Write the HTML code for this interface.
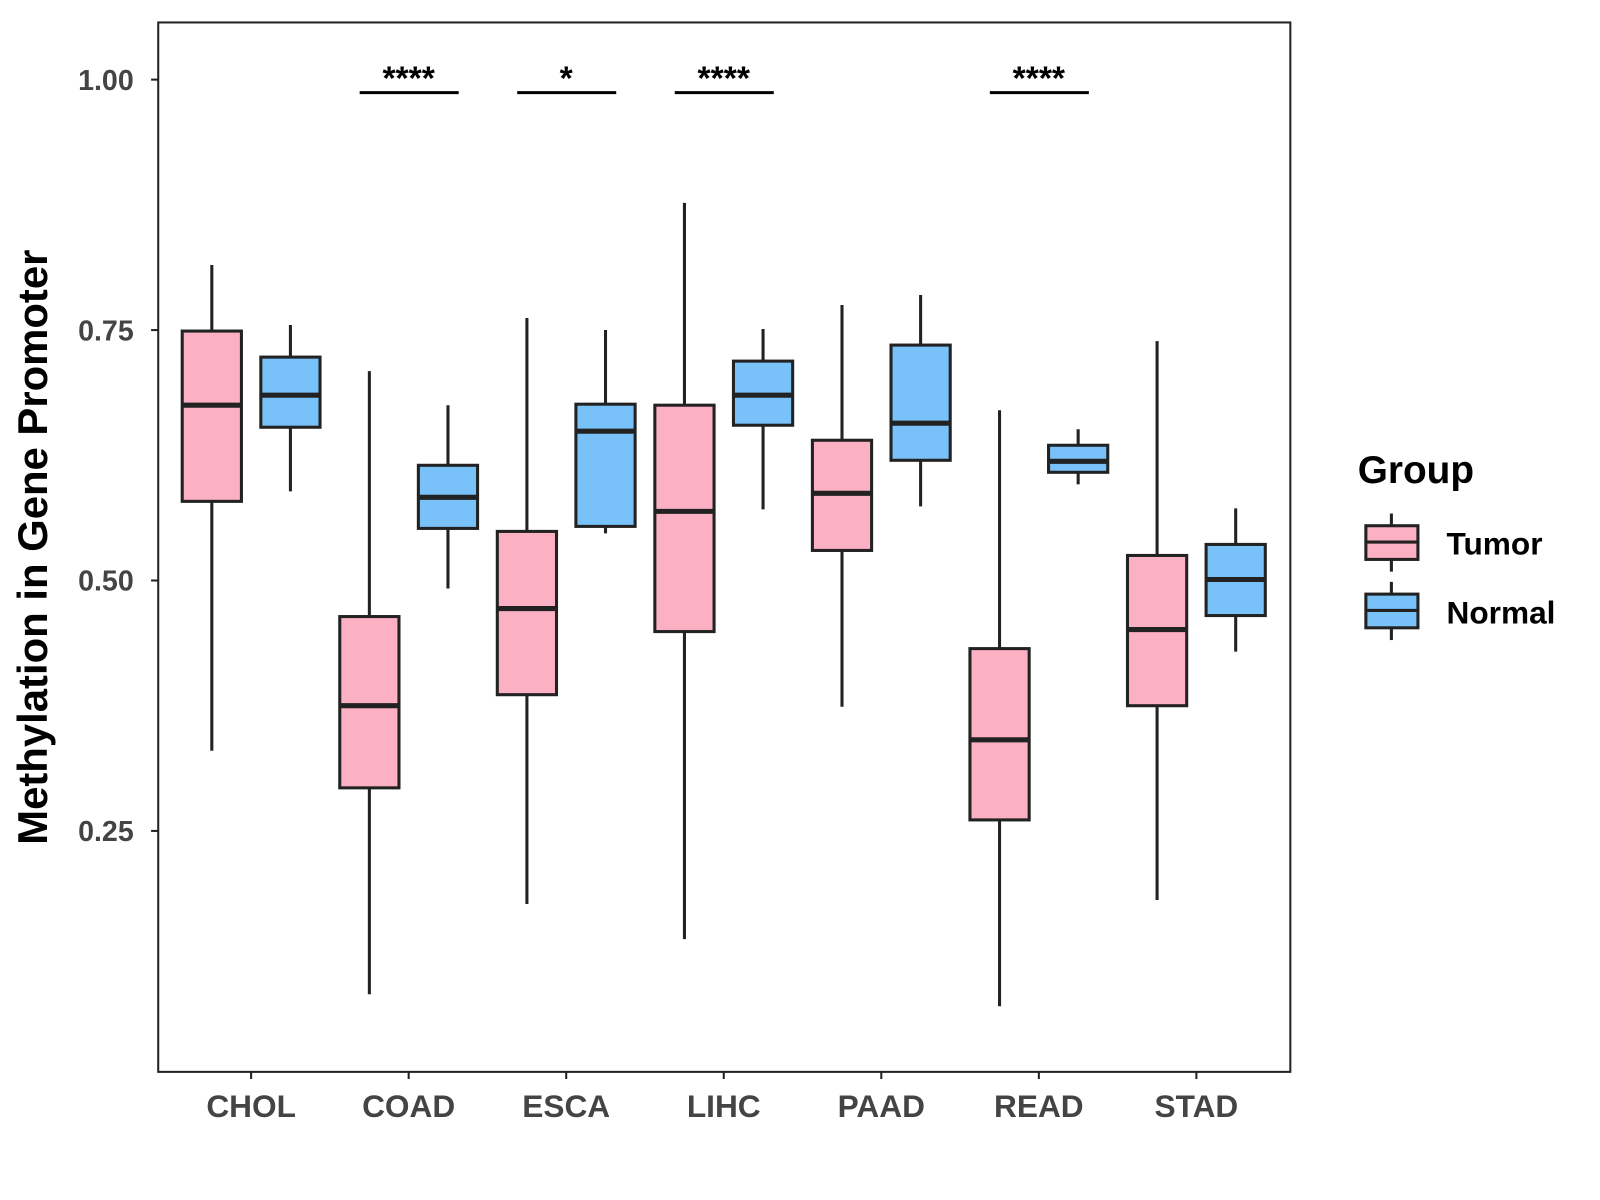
<!DOCTYPE html>
<html><head><meta charset="utf-8"><style>
body{margin:0;background:#fff}
svg{display:block;font-family:"Liberation Sans",Arial,sans-serif}
</style></head><body>
<svg id="chart" width="1600" height="1200" viewBox="0 0 1600 1200">
<g transform="scale(1.02083)">
<rect x="155" y="22" width="1109" height="1028" fill="#fff" stroke="#222" stroke-width="2"/>
<g id="yaxis"></g>
<g id="xaxis"></g>
<g id="boxes"></g>
<g id="sig"></g>
<text x="46" y="536" transform="rotate(-90 46 536)" text-anchor="middle" font-size="41" font-weight="bold" fill="#000">Methylation in Gene Promoter</text>
<g>
<text x="1330" y="473" font-size="38" font-weight="bold">Group</text>
<g>
<line x1="1363" y1="503" x2="1363" y2="560" stroke="#222" stroke-width="3"/>
<rect x="1338" y="515" width="51" height="33" fill="#FBB0C3" stroke="#222" stroke-width="3"/>
<line x1="1338" y1="531" x2="1389" y2="531" stroke="#222" stroke-width="3"/>
<text x="1417" y="543" font-size="31" font-weight="bold">Tumor</text>
</g>
<g>
<line x1="1363" y1="570" x2="1363" y2="627" stroke="#222" stroke-width="3"/>
<rect x="1338" y="582" width="51" height="33" fill="#78C1F9" stroke="#222" stroke-width="3"/>
<line x1="1338" y1="598" x2="1389" y2="598" stroke="#222" stroke-width="3"/>
<text x="1417" y="611" font-size="31" font-weight="bold">Normal</text>
</g>
</g>
</g>
</svg>
<script>
const categories=["CHOL","COAD","ESCA","LIHC","PAAD","READ","STAD"];
const tumorStats=[[0.330,0.579,0.675,0.749,0.815],[0.087,0.293,0.375,0.464,0.709],[0.177,0.386,0.472,0.549,0.762],[0.142,0.449,0.569,0.675,0.877],[0.374,0.530,0.587,0.640,0.775],[0.075,0.261,0.341,0.432,0.670],[0.181,0.375,0.451,0.525,0.739]];
const normalStats=[[0.589,0.653,0.685,0.723,0.755],[0.492,0.552,0.583,0.615,0.675],[0.547,0.554,0.649,0.676,0.750],[0.571,0.655,0.685,0.719,0.751],[0.574,0.620,0.657,0.735,0.785],[0.596,0.608,0.619,0.635,0.651],[0.429,0.465,0.501,0.536,0.572]];
const yTicks=[0.25,0.50,0.75,1.00];
const yTickLabels=["0.25","0.50","0.75","1.00"];
const sigCategories=["COAD","ESCA","LIHC","READ"];
const sigLabels=["****","*","****","****"];
const sigLevel=0.987;

const NS="http://www.w3.org/2000/svg";
const y=v=>78+(1-v)*981.3;
const x=i=>246+i*154.33;
function mk(tag,attrs,parent,text){const e=document.createElementNS(NS,tag);for(const k in attrs)e.setAttribute(k,attrs[k]);if(text!==undefined)e.textContent=text;parent.appendChild(e);return e;}
const ya=document.getElementById('yaxis');
yTicks.forEach((t,i)=>{
  const l=mk('line',{x1:148,x2:155,y1:y(t),y2:y(t),stroke:'#222','stroke-width':2},ya);
  
  
  const tx=mk('text',{x:131,y:y(t)+10,'text-anchor':'end','font-size':28,'font-weight':'bold',fill:'#444'},ya,yTickLabels[i]);
  
  
});
const xa=document.getElementById('xaxis');
categories.forEach((c,i)=>{
  const l=mk('line',{x1:x(i),x2:x(i),y1:1050,y2:1057,stroke:'#222','stroke-width':2},xa);
  
  
  const tx=mk('text',{x:x(i),y:1094,'text-anchor':'middle','font-size':31,'font-weight':'bold',fill:'#444'},xa,c);
  
  
});
const bx=document.getElementById('boxes');
function box(cx,s,fill,name){
  const g=mk('g',{},bx);
  
  
  mk('line',{x1:cx,x2:cx,y1:y(s[4]),y2:y(s[0]),stroke:'#222','stroke-width':3},g);
  mk('rect',{x:cx-29,y:y(s[3]),width:58,height:y(s[1])-y(s[3]),fill:fill,stroke:'#222','stroke-width':3},g);
  mk('line',{x1:cx-29,x2:cx+29,y1:y(s[2]),y2:y(s[2]),stroke:'#222','stroke-width':5},g);
}
categories.forEach((c,i)=>{
  box(x(i)-38.5,tumorStats[i],'#FBB0C3','box-tumor-'+c.toLowerCase());
  box(x(i)+38.5,normalStats[i],'#78C1F9','box-normal-'+c.toLowerCase());
});
const sg=document.getElementById('sig');
sigCategories.forEach((c,k)=>{
  const i=categories.indexOf(c);
  const yy=y(sigLevel);
  const l=mk('line',{x1:x(i)-48,x2:x(i)+49,y1:yy,y2:yy,stroke:'#000','stroke-width':3},sg);
  
  
  const t=mk('text',{x:x(i),y:yy-3,'text-anchor':'middle','font-size':33,'font-weight':'bold'},sg,sigLabels[k]);
  
  
});
</script>
</body></html>
